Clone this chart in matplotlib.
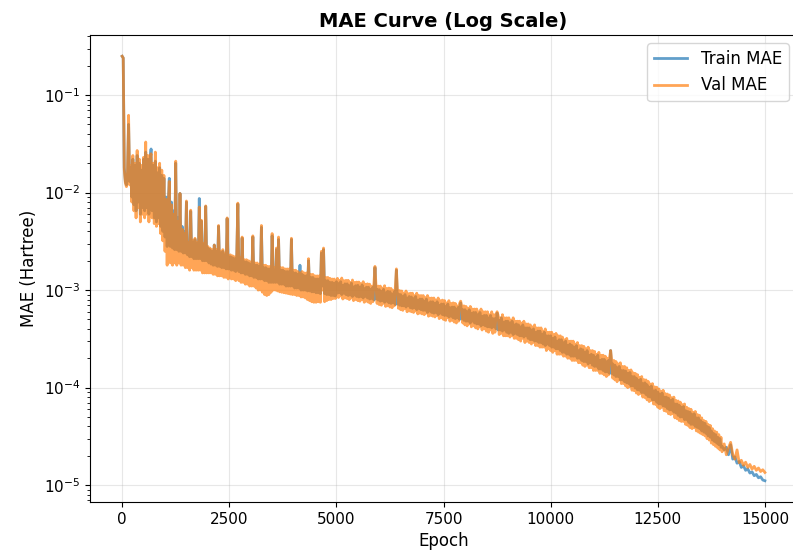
import numpy as np
import matplotlib
matplotlib.use("Agg")
import matplotlib.pyplot as plt

# epochs: every 25 up to 14000, every 50 for the smooth tail
epochs = np.concatenate([np.arange(0, 14000, 25), np.arange(14000, 15001, 50)])

# MAE values (Hartree)
train_mae = [
    # 0 - 975
    2.5e-1, 2.4e-1, 1.8e-2, 1.3e-2, 1.2e-2, 1.5e-2, 5.0e-2, 1.3e-2, 1.8e-2, 9.0e-3,
    2.2e-2, 7.5e-3, 1.9e-2, 6.5e-3, 2.4e-2, 8.0e-3, 2.0e-2, 6.0e-3, 1.7e-2, 7.0e-3,
    2.2e-2, 6.5e-3, 2.6e-2, 7.0e-3, 2.2e-2, 6.0e-3, 2.0e-2, 2.8e-2, 6.5e-3, 1.9e-2,
    5.5e-3, 2.1e-2, 5.0e-3, 1.6e-2, 5.5e-3, 1.8e-2, 4.5e-3, 1.5e-2, 4.0e-3, 1.4e-2,
    # 1000 - 1975
    3.5e-3, 9.0e-3, 2.8e-3, 7.5e-3, 1.4e-2, 2.8e-3, 8.0e-3, 2.7e-3, 6.5e-3, 2.6e-3,
    2.0e-2, 2.6e-3, 5.5e-3, 2.5e-3, 9.8e-3, 2.5e-3, 4.5e-3, 2.4e-3, 4.0e-3, 2.4e-3,
    8.0e-3, 2.3e-3, 3.0e-3, 2.2e-3, 6.4e-3, 2.2e-3, 3.1e-3, 2.1e-3, 3.3e-3, 2.1e-3,
    3.0e-3, 2.1e-3, 8.7e-3, 2.1e-3, 5.1e-3, 2.0e-3, 2.9e-3, 2.0e-3, 7.2e-3, 2.0e-3,
    # 2000 - 2975
    2.7e-3, 1.9e-3, 2.6e-3, 1.85e-3, 2.5e-3, 1.8e-3, 2.9e-3, 1.8e-3, 2.5e-3, 1.75e-3,
    4.5e-3, 1.75e-3, 2.4e-3, 1.7e-3, 2.5e-3, 1.7e-3, 2.3e-3, 1.65e-3, 5.4e-3, 1.65e-3,
    1.65e-3, 2.2e-3, 1.6e-3, 2.15e-3, 1.6e-3, 2.1e-3, 1.55e-3, 2.2e-3, 7.6e-3, 1.55e-3,
    2.05e-3, 1.5e-3, 3.4e-3, 1.5e-3, 1.95e-3, 1.45e-3, 1.95e-3, 1.45e-3, 1.9e-3, 1.4e-3,
    # 3000 - 3975
    1.85e-3, 1.4e-3, 3.5e-3, 1.35e-3, 1.8e-3, 1.35e-3, 1.8e-3, 1.3e-3, 1.75e-3, 1.3e-3,
    4.4e-3, 1.3e-3, 1.7e-3, 1.25e-3, 1.7e-3, 1.25e-3, 1.65e-3, 1.2e-3, 1.65e-3, 1.2e-3,
    3.6e-3, 1.2e-3, 1.6e-3, 1.2e-3, 2.6e-3, 1.2e-3, 3.3e-3, 1.15e-3, 1.6e-3, 1.15e-3,
    1.6e-3, 1.15e-3, 1.55e-3, 1.1e-3, 1.55e-3, 1.1e-3, 1.55e-3, 1.1e-3, 3.3e-3, 1.1e-3,
    # 4000 - 4975
    1.5e-3, 1.05e-3, 1.5e-3, 1.05e-3, 1.45e-3, 1.05e-3, 1.8e-3, 1.0e-3, 1.45e-3, 1.0e-3,
    1.4e-3, 1.0e-3, 1.4e-3, 9.8e-4, 2.0e-3, 9.8e-4, 1.35e-3, 9.6e-4, 1.35e-3, 9.6e-4,
    1.3e-3, 9.4e-4, 1.3e-3, 9.4e-4, 1.3e-3, 9.2e-4, 2.4e-3, 1.1e-3, 2.6e-3, 9.2e-4,
    1.25e-3, 9.0e-4, 1.25e-3, 9.0e-4, 1.2e-3, 8.8e-4, 1.2e-3, 8.8e-4, 1.18e-3, 8.7e-4,
    # 5000 - 5975
    1.22e-3, 9.3e-4, 1.17e-3, 9.4e-4, 1.22e-3, 9.0e-4, 1.12e-3, 9.3e-4, 1.16e-3, 9.0e-4,
    1.16e-3, 8.8e-4, 1.11e-3, 8.9e-4, 1.18e-3, 8.6e-4, 1.08e-3, 8.9e-4, 1.11e-3, 8.6e-4,
    1.12e-3, 8.5e-4, 1.07e-3, 8.6e-4, 1.13e-3, 8.3e-4, 1.04e-3, 8.6e-4, 1.07e-3, 8.3e-4,
    1.07e-3, 8.1e-4, 1.02e-3, 8.2e-4, 1.07e-3, 7.9e-4, 1.7e-3, 8.1e-4, 1.02e-3, 7.9e-4,
    # 6000 - 6975
    1.01e-3, 7.7e-4, 9.7e-4, 7.8e-4, 1.02e-3, 7.5e-4, 9.4e-4, 7.7e-4, 9.7e-4, 7.4e-4,
    9.6e-4, 7.3e-4, 9.1e-4, 7.4e-4, 9.6e-4, 7.1e-4, 1.6e-3, 7.2e-4, 9.1e-4, 7.0e-4,
    9.0e-4, 6.9e-4, 8.6e-4, 6.9e-4, 9.0e-4, 6.7e-4, 8.3e-4, 6.9e-4, 8.6e-4, 6.6e-4,
    8.5e-4, 6.5e-4, 8.2e-4, 6.6e-4, 8.6e-4, 6.3e-4, 7.9e-4, 6.5e-4, 8.1e-4, 6.3e-4,
    # 7000 - 7975
    8.1e-4, 6.2e-4, 7.7e-4, 6.2e-4, 8.1e-4, 5.9e-4, 7.4e-4, 6.1e-4, 7.6e-4, 5.9e-4,
    7.6e-4, 5.8e-4, 7.3e-4, 5.9e-4, 7.6e-4, 5.6e-4, 7.0e-4, 5.8e-4, 7.2e-4, 5.6e-4,
    7.2e-4, 5.5e-4, 6.8e-4, 5.5e-4, 7.2e-4, 5.3e-4, 6.6e-4, 5.4e-4, 6.7e-4, 5.2e-4,
    6.7e-4, 5.1e-4, 6.4e-4, 5.2e-4, 6.7e-4, 5.0e-4, 7.4e-4, 5.1e-4, 6.3e-4, 4.9e-4,
    # 8000 - 8975
    6.3e-4, 4.8e-4, 6.0e-4, 4.8e-4, 6.3e-4, 4.6e-4, 5.8e-4, 4.8e-4, 5.9e-4, 4.6e-4,
    5.9e-4, 4.5e-4, 5.6e-4, 4.5e-4, 5.9e-4, 4.3e-4, 5.4e-4, 4.4e-4, 5.5e-4, 4.3e-4,
    5.5e-4, 4.2e-4, 5.2e-4, 4.2e-4, 5.5e-4, 4.1e-4, 5.1e-4, 4.2e-4, 5.1e-4, 4.0e-4,
    5.8e-4, 3.9e-4, 4.9e-4, 3.9e-4, 5.2e-4, 3.8e-4, 4.7e-4, 3.9e-4, 4.8e-4, 3.7e-4,
    # 9000 - 9975
    4.8e-4, 3.6e-4, 4.6e-4, 3.7e-4, 4.8e-4, 3.5e-4, 4.4e-4, 3.6e-4, 4.5e-4, 3.5e-4,
    4.4e-4, 3.4e-4, 4.2e-4, 3.4e-4, 4.4e-4, 3.3e-4, 4.1e-4, 3.4e-4, 4.1e-4, 3.2e-4,
    4.1e-4, 3.1e-4, 3.9e-4, 3.1e-4, 4.0e-4, 3.0e-4, 3.7e-4, 3.0e-4, 3.8e-4, 2.9e-4,
    3.8e-4, 2.9e-4, 3.5e-4, 2.8e-4, 3.7e-4, 2.7e-4, 3.4e-4, 2.8e-4, 3.4e-4, 2.7e-4,
    # 10000 - 10975
    3.4e-4, 2.6e-4, 3.2e-4, 2.6e-4, 3.3e-4, 2.5e-4, 3.0e-4, 2.5e-4, 3.1e-4, 2.4e-4,
    3.1e-4, 2.3e-4, 2.9e-4, 2.3e-4, 3.0e-4, 2.2e-4, 2.7e-4, 2.2e-4, 2.8e-4, 2.1e-4,
    2.7e-4, 2.1e-4, 2.6e-4, 2.1e-4, 2.7e-4, 2.0e-4, 2.4e-4, 2.0e-4, 2.5e-4, 1.9e-4,
    2.45e-4, 1.85e-4, 2.3e-4, 1.85e-4, 2.4e-4, 1.75e-4, 2.15e-4, 1.8e-4, 2.2e-4, 1.7e-4,
    # 11000 - 11975
    2.15e-4, 1.65e-4, 2.05e-4, 1.65e-4, 2.15e-4, 1.55e-4, 1.9e-4, 1.55e-4, 1.95e-4, 1.5e-4,
    1.95e-4, 1.45e-4, 1.85e-4, 1.45e-4, 1.9e-4, 1.4e-4, 2.4e-4, 1.4e-4, 1.75e-4, 1.35e-4,
    1.7e-4, 1.3e-4, 1.6e-4, 1.3e-4, 1.65e-4, 1.2e-4, 1.5e-4, 1.2e-4, 1.5e-4, 1.15e-4,
    1.48e-4, 1.12e-4, 1.4e-4, 1.1e-4, 1.43e-4, 1.04e-4, 1.3e-4, 1.04e-4, 1.3e-4, 9.9e-5,
    # 12000 - 12975
    1.25e-4, 9.5e-5, 1.19e-4, 9.4e-5, 1.22e-4, 8.9e-5, 1.1e-4, 8.9e-5, 1.12e-4, 8.5e-5,
    1.07e-4, 8.1e-5, 1.01e-4, 8.0e-5, 1.04e-4, 7.5e-5, 9.3e-5, 7.5e-5, 9.4e-5, 7.1e-5,
    9.0e-5, 6.8e-5, 8.6e-5, 6.8e-5, 8.8e-5, 6.5e-5, 8.0e-5, 6.4e-5, 8.0e-5, 6.1e-5,
    7.8e-5, 5.9e-5, 7.4e-5, 5.9e-5, 7.6e-5, 5.6e-5, 6.8e-5, 5.5e-5, 6.8e-5, 5.2e-5,
    # 13000 - 13975
    6.6e-5, 5.0e-5, 6.3e-5, 5.0e-5, 6.4e-5, 4.7e-5, 5.8e-5, 4.7e-5, 5.7e-5, 4.4e-5,
    5.6e-5, 4.2e-5, 5.3e-5, 4.2e-5, 5.4e-5, 4.0e-5, 4.9e-5, 3.9e-5, 4.9e-5, 3.8e-5,
    4.6e-5, 3.6e-5, 4.4e-5, 3.5e-5, 4.3e-5, 3.4e-5, 4.0e-5, 3.2e-5, 3.9e-5, 3.1e-5,
    3.6e-5, 2.9e-5, 3.4e-5, 2.8e-5, 3.3e-5, 2.7e-5, 3.1e-5, 2.6e-5, 3.0e-5, 2.45e-5,
    # 14000 - 15000 (step 50)
    2.5e-5,
    2.3e-5, 2.45e-5, 2.05e-5, 2.6e-5, 1.85e-5, 1.95e-5, 1.68e-5, 1.75e-5, 1.52e-5, 1.58e-5,
    1.42e-5, 1.47e-5, 1.33e-5, 1.37e-5, 1.25e-5, 1.29e-5, 1.19e-5, 1.22e-5, 1.13e-5, 1.11e-5,
]

val_mae = [
    # 0 - 975
    2.5e-1, 2.4e-1, 1.7e-2, 1.25e-2, 1.15e-2, 1.6e-2, 6.2e-2, 1.2e-2, 1.9e-2, 8.0e-3,
    2.4e-2, 6.5e-3, 2.0e-2, 5.5e-3, 2.7e-2, 7.0e-3, 2.2e-2, 5.0e-3, 1.9e-2, 6.0e-3,
    2.3e-2, 5.5e-3, 3.3e-2, 6.0e-3, 2.4e-2, 5.0e-3, 2.2e-2, 2.5e-2, 5.5e-3, 2.0e-2,
    4.8e-3, 2.6e-2, 4.5e-3, 1.8e-2, 4.8e-3, 2.0e-2, 3.8e-3, 1.7e-2, 3.2e-3, 1.5e-2,
    # 1000 - 1975
    2.5e-3, 8.5e-3, 1.8e-3, 7.0e-3, 1.3e-2, 1.9e-3, 7.5e-3, 1.8e-3, 6.0e-3, 1.9e-3,
    2.1e-2, 1.8e-3, 5.0e-3, 1.9e-3, 9.8e-3, 1.8e-3, 4.2e-3, 1.8e-3, 3.8e-3, 1.7e-3,
    8.2e-3, 1.7e-3, 3.1e-3, 1.6e-3, 6.6e-3, 1.7e-3, 3.2e-3, 1.6e-3, 3.4e-3, 1.6e-3,
    3.1e-3, 1.6e-3, 7.1e-3, 1.6e-3, 5.2e-3, 1.5e-3, 3.0e-3, 1.5e-3, 7.3e-3, 1.5e-3,
    # 2000 - 2975
    2.8e-3, 1.5e-3, 2.7e-3, 1.5e-3, 2.6e-3, 1.45e-3, 2.9e-3, 1.45e-3, 2.6e-3, 1.4e-3,
    4.6e-3, 1.4e-3, 2.5e-3, 1.4e-3, 2.6e-3, 1.35e-3, 2.4e-3, 1.35e-3, 5.5e-3, 1.3e-3,
    1.35e-3, 2.3e-3, 1.3e-3, 2.25e-3, 1.3e-3, 2.2e-3, 1.25e-3, 2.3e-3, 7.8e-3, 1.25e-3,
    2.15e-3, 1.2e-3, 3.5e-3, 1.2e-3, 2.05e-3, 1.15e-3, 2.05e-3, 1.15e-3, 2.0e-3, 1.1e-3,
    # 3000 - 3975
    1.95e-3, 1.1e-3, 3.6e-3, 1.1e-3, 1.9e-3, 1.05e-3, 1.9e-3, 1.0e-3, 1.85e-3, 1.0e-3,
    4.6e-3, 9.5e-4, 1.8e-3, 9.0e-4, 1.8e-3, 8.8e-4, 1.75e-3, 9.0e-4, 1.75e-3, 9.5e-4,
    3.8e-3, 1.0e-3, 1.7e-3, 1.0e-3, 2.7e-3, 9.8e-4, 3.5e-3, 9.6e-4, 1.7e-3, 9.5e-4,
    1.7e-3, 9.4e-4, 1.65e-3, 9.3e-4, 1.65e-3, 9.2e-4, 1.65e-3, 9.1e-4, 3.4e-3, 9.0e-4,
    # 4000 - 4975
    1.6e-3, 9.0e-4, 1.6e-3, 8.8e-4, 1.55e-3, 8.8e-4, 1.5e-3, 8.5e-4, 1.55e-3, 8.5e-4,
    1.5e-3, 8.3e-4, 1.5e-3, 8.0e-4, 2.1e-3, 7.8e-4, 1.45e-3, 7.6e-4, 1.45e-3, 7.5e-4,
    1.4e-3, 7.5e-4, 1.4e-3, 7.6e-4, 1.4e-3, 7.5e-4, 2.5e-3, 1.0e-3, 2.7e-3, 7.6e-4,
    1.35e-3, 7.8e-4, 1.35e-3, 8.0e-4, 1.32e-3, 8.0e-4, 1.3e-3, 8.2e-4, 1.3e-3, 8.2e-4,
    # 5000 - 5975
    8.6e-4, 1.32e-3, 8.4e-4, 1.26e-3, 8.7e-4, 1.33e-3, 8.1e-4, 1.25e-3, 8.3e-4, 1.26e-3,
    8.2e-4, 1.26e-3, 8.0e-4, 1.2e-3, 8.3e-4, 1.27e-3, 7.8e-4, 1.2e-3, 8.0e-4, 1.21e-3,
    7.8e-4, 1.21e-3, 7.7e-4, 1.16e-3, 8.0e-4, 1.22e-3, 7.5e-4, 1.15e-3, 7.7e-4, 1.16e-3,
    7.5e-4, 1.15e-3, 7.3e-4, 1.1e-3, 7.6e-4, 1.16e-3, 1.75e-3, 1.09e-3, 7.3e-4, 1.1e-3,
    # 6000 - 6975
    7.1e-4, 1.1e-3, 7.0e-4, 1.05e-3, 7.3e-4, 1.11e-3, 6.8e-4, 1.04e-3, 6.9e-4, 1.05e-3,
    6.7e-4, 1.04e-3, 6.6e-4, 9.9e-4, 6.9e-4, 1.05e-3, 1.65e-3, 9.8e-4, 6.5e-4, 9.9e-4,
    6.3e-4, 9.8e-4, 6.2e-4, 9.3e-4, 6.5e-4, 9.8e-4, 6.0e-4, 9.2e-4, 6.1e-4, 9.3e-4,
    6.0e-4, 9.3e-4, 5.9e-4, 8.8e-4, 6.1e-4, 9.3e-4, 5.7e-4, 8.8e-4, 5.8e-4, 8.8e-4,
    # 7000 - 7975
    5.7e-4, 8.8e-4, 5.6e-4, 8.4e-4, 5.8e-4, 8.8e-4, 5.4e-4, 8.3e-4, 5.5e-4, 8.3e-4,
    5.4e-4, 8.3e-4, 5.3e-4, 7.9e-4, 5.5e-4, 8.3e-4, 5.1e-4, 7.8e-4, 5.2e-4, 7.9e-4,
    5.0e-4, 7.8e-4, 4.9e-4, 7.4e-4, 5.2e-4, 7.8e-4, 4.8e-4, 7.3e-4, 4.9e-4, 7.4e-4,
    4.7e-4, 7.3e-4, 4.6e-4, 6.9e-4, 4.8e-4, 7.3e-4, 7.7e-4, 6.8e-4, 4.6e-4, 6.9e-4,
    # 8000 - 8975
    4.4e-4, 6.8e-4, 4.3e-4, 6.5e-4, 4.5e-4, 6.8e-4, 4.2e-4, 6.4e-4, 4.3e-4, 6.4e-4,
    4.1e-4, 6.4e-4, 4.0e-4, 6.0e-4, 4.2e-4, 6.4e-4, 3.9e-4, 6.0e-4, 4.0e-4, 6.0e-4,
    3.8e-4, 6.0e-4, 3.7e-4, 5.6e-4, 3.9e-4, 6.0e-4, 3.6e-4, 5.6e-4, 3.7e-4, 5.6e-4,
    6.0e-4, 5.5e-4, 3.5e-4, 5.2e-4, 3.6e-4, 5.6e-4, 3.4e-4, 5.2e-4, 3.4e-4, 5.2e-4,
    # 9000 - 9975
    3.4e-4, 5.2e-4, 3.3e-4, 4.9e-4, 3.4e-4, 5.2e-4, 3.2e-4, 4.8e-4, 3.2e-4, 4.8e-4,
    3.1e-4, 4.8e-4, 3.0e-4, 4.6e-4, 3.2e-4, 4.8e-4, 2.9e-4, 4.5e-4, 3.0e-4, 4.5e-4,
    2.9e-4, 4.4e-4, 2.8e-4, 4.2e-4, 2.9e-4, 4.4e-4, 2.7e-4, 4.1e-4, 2.7e-4, 4.1e-4,
    2.6e-4, 4.1e-4, 2.6e-4, 3.8e-4, 2.6e-4, 4.0e-4, 2.4e-4, 3.7e-4, 2.5e-4, 3.7e-4,
    # 10000 - 10975
    2.4e-4, 3.7e-4, 2.3e-4, 3.5e-4, 2.4e-4, 3.6e-4, 2.2e-4, 3.4e-4, 2.2e-4, 3.4e-4,
    2.2e-4, 3.3e-4, 2.1e-4, 3.1e-4, 2.1e-4, 3.2e-4, 2.0e-4, 3.0e-4, 2.0e-4, 3.0e-4,
    1.9e-4, 3.0e-4, 1.9e-4, 2.8e-4, 1.9e-4, 2.9e-4, 1.8e-4, 2.7e-4, 1.8e-4, 2.7e-4,
    1.7e-4, 2.65e-4, 1.65e-4, 2.5e-4, 1.7e-4, 2.6e-4, 1.6e-4, 2.4e-4, 1.6e-4, 2.4e-4,
    # 11000 - 11975
    1.5e-4, 2.35e-4, 1.5e-4, 2.2e-4, 1.5e-4, 2.3e-4, 1.4e-4, 2.15e-4, 1.4e-4, 2.15e-4,
    1.35e-4, 2.1e-4, 1.3e-4, 2.0e-4, 1.35e-4, 2.05e-4, 2.4e-4, 1.9e-4, 1.25e-4, 1.9e-4,
    1.2e-4, 1.85e-4, 1.15e-4, 1.75e-4, 1.2e-4, 1.8e-4, 1.1e-4, 1.65e-4, 1.1e-4, 1.65e-4,
    1.04e-4, 1.6e-4, 1.0e-4, 1.5e-4, 1.02e-4, 1.52e-4, 9.4e-5, 1.42e-4, 9.3e-5, 1.4e-4,
    # 12000 - 12975
    8.8e-5, 1.36e-4, 8.5e-5, 1.28e-4, 8.7e-5, 1.3e-4, 8.0e-5, 1.21e-4, 7.9e-5, 1.2e-4,
    7.5e-5, 1.16e-4, 7.2e-5, 1.09e-4, 7.4e-5, 1.1e-4, 6.8e-5, 1.02e-4, 6.7e-5, 1.01e-4,
    6.3e-5, 9.7e-5, 6.1e-5, 9.2e-5, 6.3e-5, 9.4e-5, 5.8e-5, 8.7e-5, 5.7e-5, 8.6e-5,
    5.4e-5, 8.4e-5, 5.3e-5, 7.9e-5, 5.4e-5, 8.0e-5, 4.9e-5, 7.4e-5, 4.8e-5, 7.3e-5,
    # 13000 - 13975
    4.6e-5, 7.1e-5, 4.5e-5, 6.7e-5, 4.5e-5, 6.8e-5, 4.2e-5, 6.3e-5, 4.1e-5, 6.1e-5,
    3.9e-5, 6.0e-5, 3.8e-5, 5.6e-5, 3.9e-5, 5.7e-5, 3.6e-5, 5.3e-5, 3.5e-5, 5.2e-5,
    3.4e-5, 4.9e-5, 3.3e-5, 4.6e-5, 3.2e-5, 4.5e-5, 3.0e-5, 4.2e-5, 2.9e-5, 4.1e-5,
    2.7e-5, 3.8e-5, 2.6e-5, 3.6e-5, 2.5e-5, 3.5e-5, 2.4e-5, 3.3e-5, 2.3e-5, 3.1e-5,
    # 14000 - 15000 (step 50)
    2.2e-5,
    2.65e-5, 2.05e-5, 2.4e-5, 2.75e-5, 2.05e-5, 1.85e-5, 2.3e-5, 1.7e-5, 1.8e-5, 1.6e-5,
    1.72e-5, 1.52e-5, 1.63e-5, 1.46e-5, 1.56e-5, 1.42e-5, 1.5e-5, 1.38e-5, 1.44e-5, 1.35e-5,
]

fig = plt.figure(figsize=(7.93, 5.54), dpi=100)
ax = fig.add_axes([0.1135, 0.0939, 0.8916, 0.8429])

ax.plot(epochs, train_mae, color='#1f77b4', linewidth=2, alpha=0.7, label='Train MAE')
ax.plot(epochs, val_mae, color='#ff7f0e', linewidth=2, alpha=0.7, label='Val MAE')
ax.set_yscale('log')
ax.set_xticks(np.arange(0, 15001, 2500))

ax.set_title('MAE Curve (Log Scale)', fontsize=14, fontweight='bold')
ax.set_xlabel('Epoch', fontsize=12)
ax.set_ylabel('MAE (Hartree)', fontsize=12)
ax.tick_params(labelsize=11)
ax.grid(True, alpha=0.3)
ax.legend(loc='upper right', fontsize=12)

fig.savefig('out.png', dpi=100)
